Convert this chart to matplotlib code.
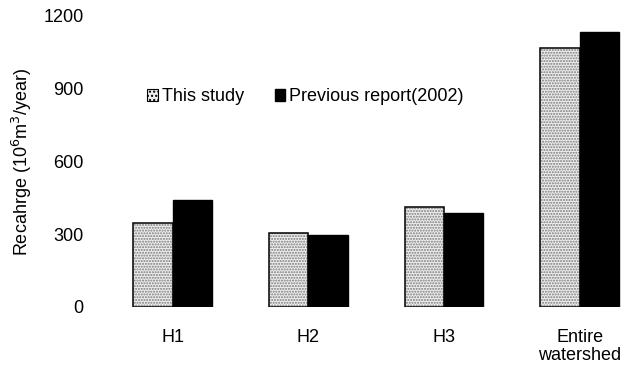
import matplotlib
matplotlib.use("Agg")
import matplotlib.pyplot as plt
from matplotlib.patches import Patch
import numpy as np

categories = ["H1", "H2", "H3", "Entire\nwatershed"]
this_study = [345, 304, 411, 1069]
previous_report = [441, 297, 388, 1135]
yticks = [0, 300, 600, 900, 1200]

plt.rcParams["font.family"] = ["Liberation Sans", "DejaVu Sans"]

fig = plt.figure(figsize=(6.24, 3.72), dpi=100)
ax = fig.add_axes([0.19, 0.175, 0.81, 0.782])

x = np.arange(len(categories))
w = 0.29
# dotted grey fill, then a black outline on top
ax.bar(x - w / 2, this_study, w, color="#eeeeee", edgecolor="#7a7a7a",
       hatch="......", linewidth=0)
ax.bar(x - w / 2, this_study, w, facecolor="none", edgecolor="black", linewidth=1.1)
ax.bar(x + w / 2, previous_report, w, color="black", edgecolor="black", linewidth=1)

ax.set_xlim(-0.4, 3.326)
ax.set_ylim(0, 1200)
ax.set_yticks(yticks)
ax.set_xticks(x)
ax.set_xticklabels(categories, fontsize=13, linespacing=1.05)
ax.tick_params(axis="both", length=0, labelsize=13)
ax.tick_params(axis="y", pad=25)
ax.tick_params(axis="x", pad=16)
for s in ax.spines.values():
    s.set_visible(False)

ax.set_ylabel("Recahrge (10$^6$m$^3$/year)", fontsize=13)
ax.yaxis.set_label_coords(-0.168, 0.5)

handles = [Patch(facecolor="#eeeeee", edgecolor="black", hatch="....", linewidth=0.8),
           Patch(facecolor="black", edgecolor="black")]
ax.legend(handles, ["This study", "Previous report(2002)"], ncol=2, frameon=False,
          loc="center left", bbox_to_anchor=(0.057, 0.722), fontsize=13,
          handlelength=0.6, handleheight=0.6, handletextpad=0.2, columnspacing=1.7,
          borderpad=0, borderaxespad=0)

fig.savefig("out.png", dpi=100)
